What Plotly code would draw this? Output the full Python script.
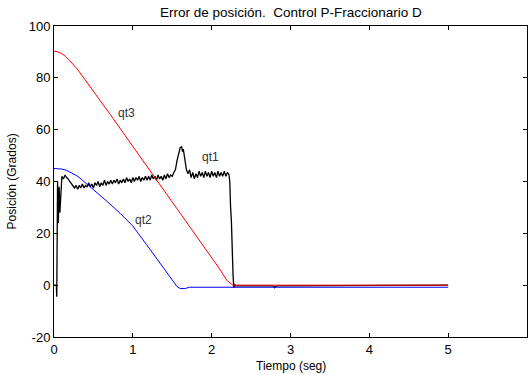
import plotly.graph_objects as go

# qt3 (red)
t_qt3 = [0, 0.05, 0.1, 0.15, 0.2, 0.29, 0.71, 1.05, 1.7, 1.85, 2.1, 2.19, 2.27, 5.0]
v_qt3 = [90.3, 90.0, 89.3, 88.2, 86.6, 83.6, 66.0, 51.4, 23.2, 17.0, 6.3, 1.9, 0.0, 0.0]

# qt2 (blue)
t_qt2 = [0, 0.05, 0.1, 0.16, 0.22, 0.28, 0.33, 0.4, 0.5, 0.67, 0.84, 1.0, 1.175, 1.345, 1.51, 1.56, 1.6, 1.63, 1.66, 1.72, 5.0]
v_qt2 = [45.0, 45.0, 44.8, 44.3, 43.5, 42.4, 41.3, 39.5, 36.8, 32.4, 27.7, 22.8, 15.6, 8.4, 1.3, -0.5, -1.3, -1.4, -1.3, -0.8, -0.8]

# qt1 (black)
t_qt1 = [0, 0.03, 0.035, 0.045, 0.055, 0.065, 0.075, 0.09, 0.1, 0.12, 0.14,
         0.16, 0.18, 0.20, 0.22, 0.24, 0.26, 0.28, 0.30, 0.32, 0.34, 0.36, 0.38,
         0.40, 0.42, 0.44, 0.46, 0.48, 0.50, 0.52, 0.54, 0.56, 0.58, 0.60, 0.62,
         0.64, 0.66, 0.68, 0.70, 0.72, 0.74, 0.76, 0.78, 0.80, 0.82, 0.84, 0.86,
         0.88, 0.90, 0.92, 0.94, 0.96, 0.98, 1.00, 1.02, 1.04, 1.06, 1.08, 1.10,
         1.12, 1.14, 1.16, 1.18, 1.20, 1.22, 1.24, 1.26, 1.28, 1.30, 1.32, 1.34,
         1.36, 1.38, 1.40, 1.42, 1.44, 1.46, 1.48, 1.50, 1.52, 1.54, 1.56, 1.58,
         1.60, 1.62, 1.63, 1.64, 1.66, 1.68, 1.70, 1.72, 1.74, 1.76, 1.78, 1.80,
         1.82, 1.84, 1.86, 1.88, 1.90, 1.92, 1.94, 1.96, 1.98, 2.00, 2.02, 2.04,
         2.06, 2.08, 2.10, 2.12, 2.14, 2.16, 2.18, 2.20, 2.22, 2.23, 2.24, 2.25,
         2.27, 2.28, 2.29, 2.30, 2.78, 2.80, 2.82, 5.0]
v_qt1 = [0.0, 0.0, -4.5, 40.0, 24.0, 38.0, 28.0, 40.0, 42.0, 41.0, 42.5,
         41.5, 41.0, 40.0, 39.0, 38.5, 37.5, 38.5, 37.0, 38.5, 37.5, 39.0, 37.5,
         38.5, 38.0, 39.5, 38.0, 39.0, 37.5, 39.5, 38.5, 40.0, 38.0, 39.5, 38.5,
         40.5, 38.5, 40.0, 39.0, 40.5, 39.0, 40.5, 39.5, 41.0, 39.0, 40.5, 39.5,
         41.0, 39.5, 41.5, 40.0, 41.0, 39.5, 41.5, 40.0, 41.5, 40.5, 42.0, 40.0,
         41.5, 40.5, 42.0, 40.5, 42.0, 40.5, 42.5, 41.0, 42.0, 40.5, 42.5, 41.0,
         42.0, 40.5, 42.5, 41.0, 43.0, 41.5, 42.5, 42.0, 43.5, 44.5, 48.0, 51.0,
         53.0, 53.5, 51.5, 52.5, 48.0, 44.5, 43.0, 44.5, 41.5, 43.5, 41.0, 43.0,
         41.5, 44.0, 42.0, 43.5, 41.5, 44.0, 42.0, 43.5, 41.5, 44.0, 42.0, 43.5,
         41.5, 44.0, 42.0, 43.5, 42.0, 44.0, 42.0, 43.5, 42.5, 40.0, 30.0, 25.0,
         5.0, -1.0, 0.5, -0.3, -0.3, -1.0, -0.3, 0.0]

x_ticks = [0, 1, 2, 3, 4, 5, 6]
y_ticks = [-20, 0, 20, 40, 60, 80, 100]

labels = ["qt3", "qt1", "qt2"]
label_x = [0.92, 1.99, 1.13]
label_y = [66.3, 49.5, 25.3]

font = "Liberation Sans, Arial, sans-serif"

fig = go.Figure()
fig.add_trace(go.Scatter(x=t_qt1, y=v_qt1, mode="lines", line=dict(color="black", width=1.3)))
fig.add_trace(go.Scatter(x=t_qt2, y=v_qt2, mode="lines", line=dict(color="blue", width=1)))
fig.add_trace(go.Scatter(x=t_qt3, y=v_qt3, mode="lines", line=dict(color="red", width=1)))

for txt, lx, ly in zip(labels, label_x, label_y):
    fig.add_annotation(x=lx, y=ly, text=txt, showarrow=False,
                       font=dict(family=font, size=12, color="#333333"))

fig.add_annotation(xref="paper", yref="paper", x=0.5, y=1.045, text="Error de posición.  Control P-Fraccionario D",
                   showarrow=False, xanchor="center", yanchor="middle",
                   font=dict(family=font, size=13.5, color="black"))
fig.add_annotation(xref="paper", yref="paper", x=0.5, y=-0.093, text="Tiempo (seg)",
                   showarrow=False, xanchor="center", yanchor="middle",
                   font=dict(family=font, size=12, color="black"))
fig.add_annotation(xref="paper", yref="paper", x=-0.089, y=0.5, text="Posición (Grados)",
                   showarrow=False, xanchor="center", yanchor="middle", textangle=-90,
                   font=dict(family=font, size=12, color="black"))

axis_common = dict(showgrid=False, zeroline=False, showline=True, linecolor="black",
                   linewidth=1, mirror="ticks", ticks="inside", ticklen=4, automargin=False,
                   tickcolor="black", tickfont=dict(family=font, size=13, color="black"))

fig.update_layout(
    width=529, height=375,
    margin=dict(l=54, r=2, t=26, b=38),
    paper_bgcolor="white", plot_bgcolor="white",
    showlegend=False,
    xaxis=dict(range=[0, 6], tickvals=x_ticks, ticktext=[str(v) for v in x_ticks], **axis_common),
    yaxis=dict(range=[-20, 100], tickvals=y_ticks, ticktext=[str(v) for v in y_ticks], **axis_common),
)

# remove the default 8px page margin so the figure fills the window exactly
fig.write_html("out.html", config={"displayModeBar": False},
               post_script="document.body.style.margin='0px';")
